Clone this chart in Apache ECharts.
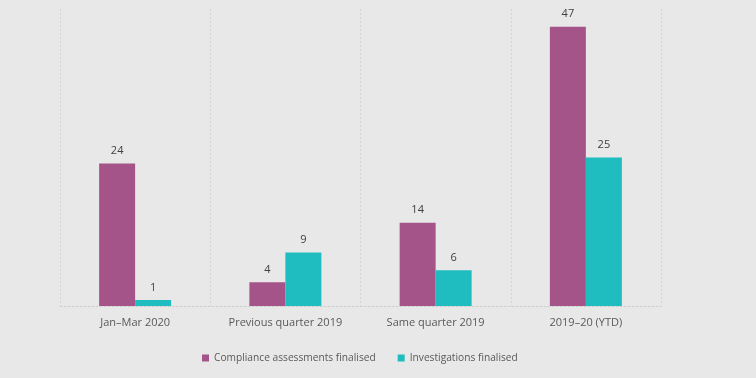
<!DOCTYPE html>
<html><head><meta charset="utf-8">
<script src="https://cdn.jsdelivr.net/npm/echarts@6/dist/echarts.min.js"></script>
<style>html,body{margin:0;padding:0;background:#e8e8e8}#c{width:756px;height:378px}</style>
</head><body><div id="c"></div>
<script>
const categories = ['Jan\u2013Mar 2020', 'Previous quarter 2019', 'Same quarter 2019', '2019\u201320 (YTD)'];
const seriesNames = ['Compliance assessments finalised', 'Investigations finalised'];
const compliance = [24, 4, 14, 47];
const investigations = [1, 9, 6, 25];
const colors = ['#a5548a', '#1fbdbf'];
const FONT = '"Open Sans", "Noto Sans", sans-serif';
const chart = echarts.init(document.getElementById('c'), null, {renderer: 'canvas'});
const lbl = {show: true, position: 'top', color: '#404040', fontSize: 11, fontFamily: FONT, distance: 7};
chart.setOption({
  backgroundColor: '#e8e8e8',
  animation: false,
  textStyle: {fontFamily: FONT},
  grid: {left: 60, right: 95, top: 9, bottom: 72, containLabel: false},
  legend: {
    bottom: 10, left: 197, itemWidth: 7, itemHeight: 7, itemGap: 22,
    icon: 'rect',
    textStyle: {color: '#595959', fontSize: 10.2, fontFamily: FONT},
    data: seriesNames
  },
  xAxis: {
    type: 'category', data: categories,
    axisLine: {show: true, lineStyle: {color: '#cfcfcf', type: [2, 2], width: 1}},
    axisTick: {show: false},
    axisLabel: {color: '#595959', fontSize: 11, fontFamily: FONT, margin: 11},
    splitLine: {show: true, lineStyle: {color: '#d4d4d4', type: [2, 2], width: 1}}
  },
  yAxis: {
    type: 'value', min: 0, max: 50, show: false,
    splitLine: {show: false}
  },
  series: [
    {name: seriesNames[0], type: 'bar', data: compliance, barWidth: 36, barGap: '0%', itemStyle: {color: colors[0]}, label: lbl},
    {name: seriesNames[1], type: 'bar', data: investigations, barWidth: 36, barGap: '0%', itemStyle: {color: colors[1]}, label: lbl}
  ]
});
</script></body></html>
